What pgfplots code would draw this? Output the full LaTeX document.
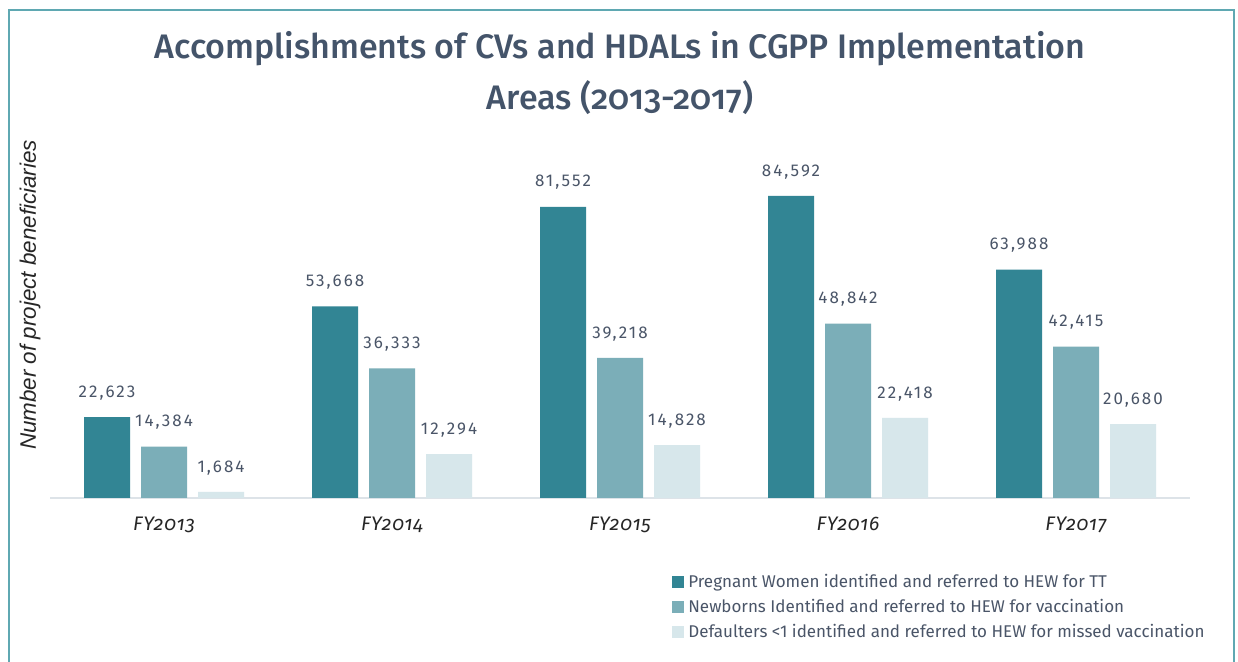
\documentclass[border=0pt]{standalone}
\usepackage{pgfplots}
\pgfplotsset{compat=1.18}
\usepackage{fontspec}
\setmainfont{Fira Sans}
\newfontfamily\titlefont{Fira Sans}[UprightFont=* Medium, Numbers=OldStyle]
\newfontfamily\tickfont{Fira Sans}[Numbers=OldStyle, LetterSpace=4]
\newfontfamily\arialfont{Liberation Sans}
\definecolor{cA}{HTML}{328594}
\definecolor{cB}{HTML}{7BAEB8}
\definecolor{cC}{HTML}{D7E7EB}
\definecolor{titlecol}{HTML}{44546A}
\definecolor{labcol}{HTML}{4A5568}
\definecolor{framecol}{HTML}{5FA8B2}
\definecolor{basecol}{HTML}{DDE3E8}
\begin{document}
\begin{tikzpicture}
\useasboundingbox (0,0) rectangle (619pt,331pt);
\fill[white] (0,0) rectangle (619pt,331pt);
\draw[framecol, line width=0.8pt] (4.5pt,-1pt) -- (4.5pt,326pt) -- (617pt,326pt) -- (617pt,-1pt);
\node[font=\titlefont\fontsize{17}{19}\selectfont, text=titlecol] at (310pt,306.5pt) {Accomplishments of CVs and HDALs in CGPP Implementation};
\node[font=\titlefont\fontsize{17}{19}\selectfont, text=titlecol] at (310pt,282pt) {Areas (2013-2017)};
\node[rotate=90, font=\arialfont\itshape\fontsize{11.2}{13}\selectfont, text=black!85] at (15pt,183.5pt) {Number of project beneficiaries};
\begin{axis}[
  at={(25pt,82pt)}, anchor=south west,
  width=570pt, height=178.5pt, scale only axis,
  xmin=-0.5, xmax=4.5, ymin=0, ymax=100000,
  axis y line=none,
  axis x line*=bottom,
  x axis line style={-, draw=basecol, line width=1pt},
  xtick={0,1,2,3,4},
  xticklabels={FY2013,FY2014,FY2015,FY2016,FY2017},
  x tick label style={font=\tickfont\itshape\fontsize{9.8}{11}\selectfont, text=black!85, yshift=-6pt},
  major tick length=0pt,
  ytick=\empty,
  ybar=5.5pt, bar width=23pt,
  nodes near coords,
  /pgf/number format/.cd, fixed, precision=0, 1000 sep={,}, assume math mode=true,
  /pgfplots/.cd,
  every node near coord/.append style={font=\addfontfeatures{LetterSpace=12}\fontsize{8.5}{10}\selectfont, text=labcol, yshift=5pt},
  legend style={at={(0.5456,-0.2)}, anchor=north west, draw=none, fill=none, inner sep=0pt,
    font=\fontsize{8.5}{9.8}\selectfont, text=labcol, row sep=0.5pt, cells={anchor=west},
    /tikz/every even column/.append style={column sep=0pt}},
  legend image code/.code={\fill[#1] (0pt,-3pt) rectangle (6pt,3pt);},
  legend cell align=left,
]
\addplot[fill=cA, draw=none] coordinates {(0,22623) (1,53668) (2,81552) (3,84592) (4,63988)};
\addplot[fill=cB, draw=none] coordinates {(0,14384) (1,36333) (2,39218) (3,48842) (4,42415)};
\addplot[fill=cC, draw=none] coordinates {(0,1684) (1,12294) (2,14828) (3,22418) (4,20680)};
\legend{Pregnant Women identified and referred to HEW for TT,
Newborns Identified and referred to HEW for vaccination,
Defaulters <1 identified and referred to HEW for missed vaccination}
\end{axis}
\end{tikzpicture}
\end{document}
